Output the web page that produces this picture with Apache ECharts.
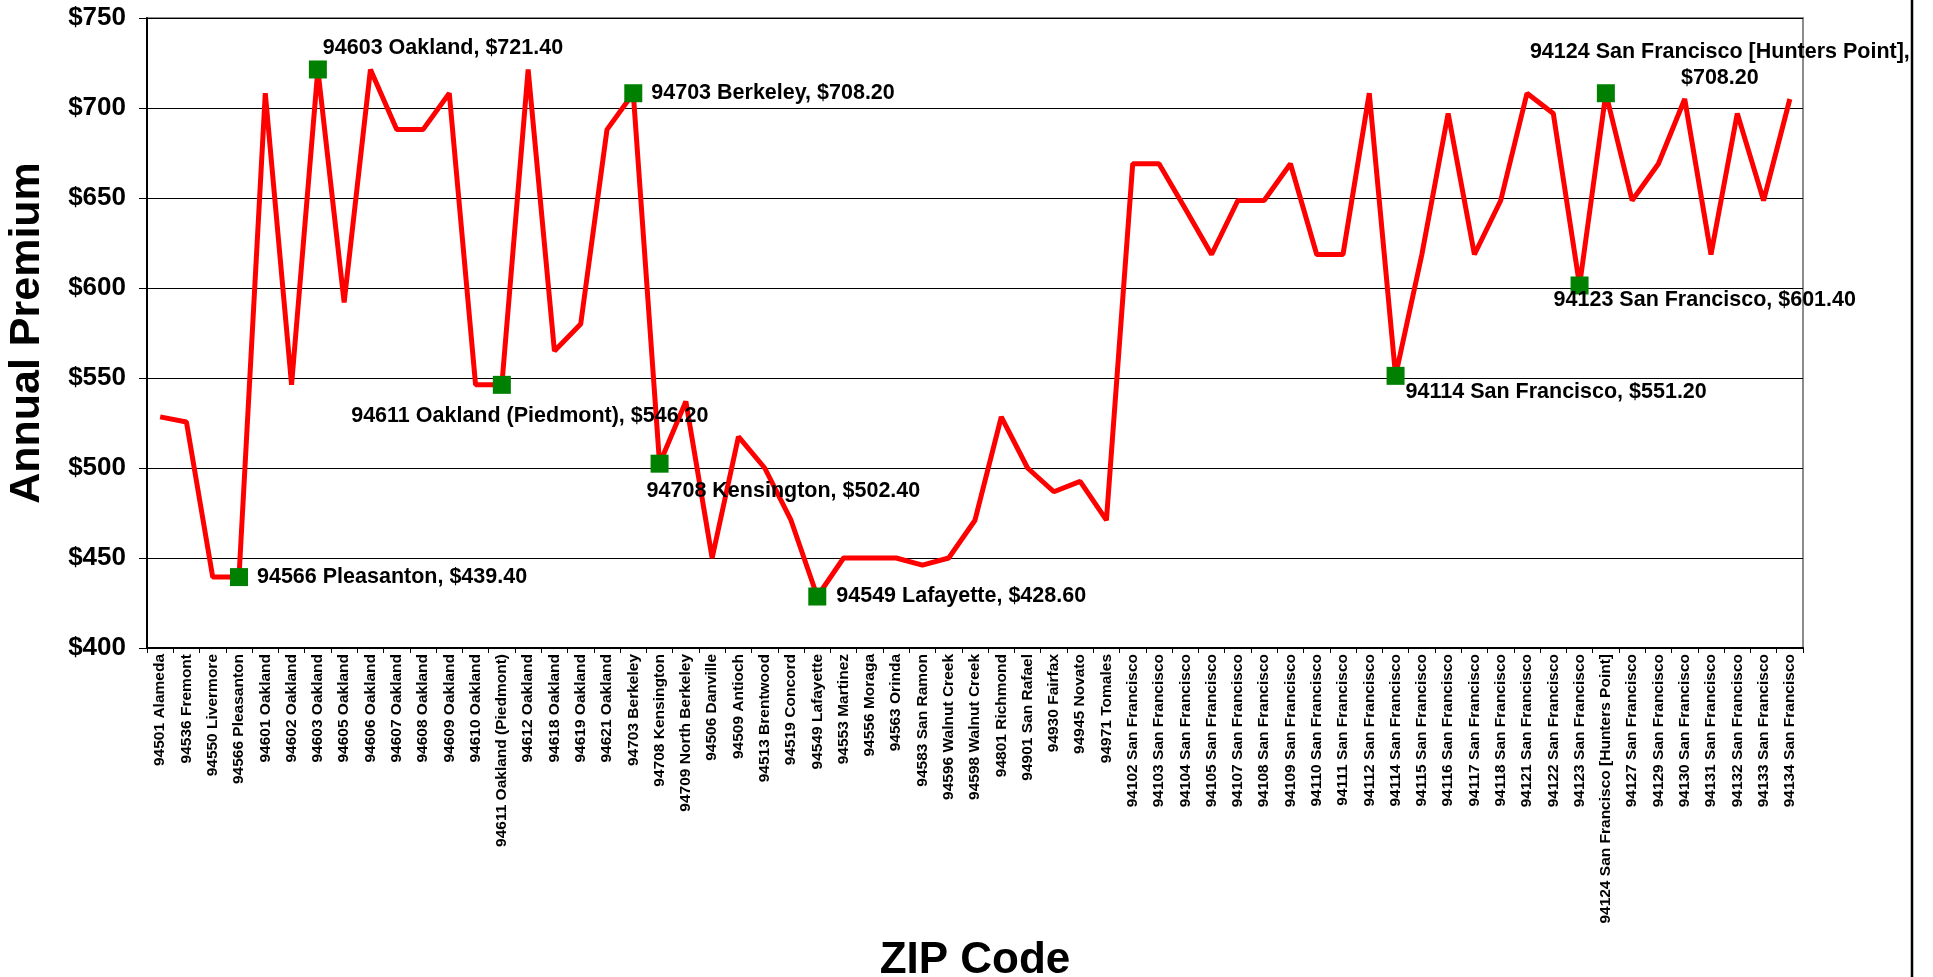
<!DOCTYPE html>
<html>

<head>
    <meta charset="UTF-8">
    <title>Annual Premium by ZIP Code</title>
    <script src="https://cdn.jsdelivr.net/npm/echarts@6/dist/echarts.min.js"></script>
    <style>
        html, body {
            margin: 0;
            padding: 0;
            background: #ffffff;
            overflow: hidden;
        }

        #chart {
            width: 1933px;
            height: 977px;
        }
    </style>
</head>

<body>
    <div id="chart"></div>
</body>
<script>
    var zipCodes = [
        '94501 Alameda', '94536 Fremont', '94550 Livermore', '94566 Pleasanton',
        '94601 Oakland', '94602 Oakland', '94603 Oakland', '94605 Oakland', '94606 Oakland',
        '94607 Oakland', '94608 Oakland', '94609 Oakland', '94610 Oakland',
        '94611 Oakland (Piedmont)', '94612 Oakland', '94618 Oakland', '94619 Oakland',
        '94621 Oakland', '94703 Berkeley', '94708 Kensington', '94709 North Berkeley',
        '94506 Danville', '94509 Antioch', '94513 Brentwood', '94519 Concord',
        '94549 Lafayette', '94553 Martinez', '94556 Moraga', '94563 Orinda',
        '94583 San Ramon', '94596 Walnut Creek', '94598 Walnut Creek', '94801 Richmond',
        '94901 San Rafael', '94930 Fairfax', '94945 Novato', '94971 Tomales',
        '94102 San Francisco', '94103 San Francisco', '94104 San Francisco',
        '94105 San Francisco', '94107 San Francisco', '94108 San Francisco',
        '94109 San Francisco', '94110 San Francisco', '94111 San Francisco',
        '94112 San Francisco', '94114 San Francisco', '94115 San Francisco',
        '94116 San Francisco', '94117 San Francisco', '94118 San Francisco',
        '94121 San Francisco', '94122 San Francisco', '94123 San Francisco',
        '94124 San Francisco [Hunters Point]', '94127 San Francisco', '94129 San Francisco',
        '94130 San Francisco', '94131 San Francisco', '94132 San Francisco',
        '94133 San Francisco', '94134 San Francisco'
    ];

    var premiums = [
        528.4, 525.6, 439.4, 439.4,
        708.2, 546.2, 721.4, 592.0, 721.4,
        688.0, 688.0, 708.2, 546.2,
        546.2, 721.4, 565.0, 580.0,
        688.0, 708.2, 502.4, 537.0,
        450.0, 517.4, 500.0, 471.0,
        428.6, 450.0, 450.0, 450.0,
        446.0, 450.0, 471.0, 528.4,
        500.0, 486.8, 492.6, 471.0,
        669.0, 669.0, 644.0,
        618.6, 648.6, 648.6,
        669.0, 618.6, 618.6,
        708.2, 551.2, 618.6,
        697.0, 618.6, 648.6,
        708.2, 697.0, 601.4,
        708.2, 648.6, 669.0,
        705.0, 618.6, 697.0,
        648.6, 705.0
    ];

    var yTicks = [400, 450, 500, 550, 600, 650, 700, 750];

    // points that get a green marker and a callout
    var highlighted = [3, 6, 13, 18, 19, 25, 47, 54, 55];

    // callout placement per highlighted point (position, offset in px)
    var calloutPlace = {
        3: { position: 'right', offset: [4, 0] },
        6: { position: 'right', offset: [-9, -21] },
        13: { position: 'inside', offset: [28, 31] },
        18: { position: 'right', offset: [4, 0] },
        19: { position: 'right', offset: [-27, 27] },
        25: { position: 'right', offset: [5, 0] },
        47: { position: 'right', offset: [-4, 16] },
        54: { position: 'right', offset: [-40, 15] },
        55: { position: 'inside', offset: [114, -28] }
    };

    var calloutData = highlighted.map(function (i) {
        var text = zipCodes[i] + ', $' + premiums[i].toFixed(2);
        if (i === 55) {
            text = zipCodes[i] + ',\n$' + premiums[i].toFixed(2);
        }
        var place = calloutPlace[i];
        return {
            value: [i, premiums[i]],
            label: {
                show: true,
                formatter: text,
                position: place.position,
                offset: place.offset,
                align: place.position === 'inside' ? 'center' : 'left',
                lineHeight: 26
            }
        };
    });

    var chart = echarts.init(document.getElementById('chart'));
    var fontFam = 'Liberation Sans, Arial, sans-serif';

    var option = {
        animation: false,
        backgroundColor: '#ffffff',
        textStyle: { fontFamily: fontFam },
        grid: {
            left: 147,
            right: 130,
            top: 18,
            bottom: 329,
            show: true,
            borderColor: '#8c8c8c',
            borderWidth: 2,
            containLabel: false,
            outerBoundsMode: 'none'
        },
        xAxis: {
            type: 'category',
            data: zipCodes,
            boundaryGap: true,
            name: 'ZIP Code',
            nameLocation: 'middle',
            nameGap: 291,
            nameTextStyle: {
                fontSize: 44,
                fontWeight: 'bold',
                color: '#000',
                fontFamily: fontFam
            },
            axisLine: { lineStyle: { color: '#000', width: 2 } },
            axisTick: {
                show: true,
                interval: 0,
                length: 5,
                lineStyle: { color: '#000' }
            },
            axisLabel: {
                interval: 0,
                rotate: 90,
                margin: 6,
                fontSize: 15.5,
                fontWeight: 'bold',
                color: '#000',
                fontFamily: fontFam
            },
            splitLine: { show: false }
        },
        yAxis: {
            type: 'value',
            min: yTicks[0],
            max: yTicks[yTicks.length - 1],
            interval: 50,
            name: 'Annual Premium',
            nameLocation: 'middle',
            nameRotate: 90,
            nameGap: 98,
            nameTextStyle: {
                fontSize: 43,
                fontWeight: 'bold',
                color: '#000',
                fontFamily: fontFam
            },
            axisLine: { show: true, lineStyle: { color: '#000', width: 2 } },
            axisTick: {
                show: true,
                length: 8,
                lineStyle: { color: '#000' }
            },
            axisLabel: {
                margin: 21,
                fontSize: 26,
                fontWeight: 'bold',
                color: '#000',
                fontFamily: fontFam,
                formatter: function (v) {
                    return '$' + v;
                }
            },
            splitLine: { show: true, lineStyle: { color: '#000', width: 1 } }
        },
        graphic: {
            elements: [{
                type: 'line',
                z: 100,
                silent: true,
                shape: { x1: 1912, y1: 0, x2: 1912, y2: 977 },
                style: { stroke: '#000000', lineWidth: 2.5 }
            }]
        },
        series: [{
            name: 'Annual Premium',
            type: 'line',
            data: premiums,
            symbol: 'none',
            lineStyle: { color: '#ff0000', width: 5 },
            z: 2
        }, {
            name: 'callouts',
            type: 'scatter',
            data: calloutData,
            symbol: 'rect',
            symbolSize: 18,
            itemStyle: { color: '#008000', opacity: 1 },
            label: {
                color: '#000',
                fontSize: 21.5,
                fontWeight: 'bold',
                fontFamily: fontFam
            },
            z: 3
        }]
    };
    chart.setOption(option);
</script>

</html>
